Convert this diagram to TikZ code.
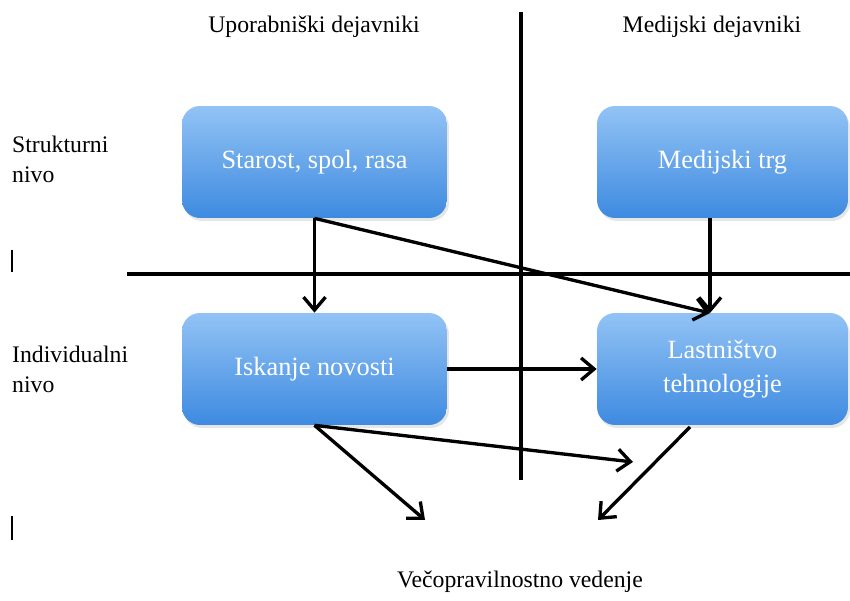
\documentclass[tikz,border=0pt]{standalone}
\usepackage{fontspec}
\setmainfont{Liberation Serif}
\usetikzlibrary{arrows.meta,shadows}
\definecolor{boxtop}{RGB}{146,195,245}
\definecolor{boxbot}{RGB}{62,138,224}
\definecolor{ink}{RGB}{0,0,0}
\tikzset{
  pbox/.style={rounded corners=0.36cm,minimum width=5.3cm,minimum height=2.24cm,
    top color=boxtop,bottom color=boxbot,draw=none,text=white,align=center,
    font=\fontsize{15}{16}\selectfont,
    drop shadow={opacity=0.2,shadow xshift=0.4mm,shadow yshift=-0.6mm}},
  lbl/.style={font=\fontsize{13.5}{17}\selectfont,text=ink},
  axis/.style={line width=1.9pt,draw=ink},
  arr/.style={-{Straight Barb[length=2.6mm,width=4.4mm]},line width=1.9pt,draw=ink},
}
\begin{document}
\begin{tikzpicture}[x=0.02cm,y=-0.02cm]
  \useasboundingbox (0,0) rectangle (850,601);
  % axes
  \coordinate (vtop) at (521,12);
  \coordinate (vbot) at (521,480);
  \coordinate (hleft) at (127,274);
  \coordinate (hright) at (850,274);
  \draw[axis] (vtop) -- (vbot);
  \draw[axis] (hleft) -- (hright);
  % boxes
  \node[pbox] (starost) at (314.5,162) {Starost, spol, rasa};
  \node[pbox,minimum width=5.02cm] (trg) at (722.5,162) {Medijski trg};
  \node[pbox] (iskanje) at (314.5,369) {Iskanje novosti};
  \node[pbox,minimum width=5.02cm] (lastnistvo) at (722.5,369) {Lastništvo\\[3pt]tehnologije};
  % headings
  \node[lbl] (uporabniski) at (314,27) {Uporabniški dejavniki};
  \node[lbl] (medijski) at (712,27) {Medijski dejavniki};
  \node[lbl,anchor=north west,align=left] (strukturni) at (6,130) {Strukturni\\nivo};
  \node[lbl,anchor=north west,align=left] (individualni) at (6,340) {Individualni\\nivo};
  \node[lbl] (vecopravilnost) at (520,582) {Večopravilnostno vedenje};
  % cursor marks
  \draw[line width=0.9pt] (12,250) -- (12,272);
  \draw[line width=0.9pt] (12,516) -- (12,540);
  % arrow ends
  \coordinate (lastin) at (710,313);
  \coordinate (trgout) at (710,218);
  \coordinate (middle) at (633,462);
  \coordinate (vecleft) at (425,520);
  \coordinate (lastout) at (690,427);
  \coordinate (vecright) at (598,520);
  % arrows
  \draw[arr] (starost.south) -- (iskanje.north);
  \draw[arr] (starost.south) -- (lastin);
  \draw[arr] (trgout) -- (lastin);
  \draw[arr] (iskanje.east) -- (lastnistvo.west);
  \draw[arr] (iskanje.south) -- (vecleft);
  \draw[arr] (iskanje.south) -- (middle);
  \draw[arr] (lastout) -- (vecright);
\end{tikzpicture}
\end{document}
